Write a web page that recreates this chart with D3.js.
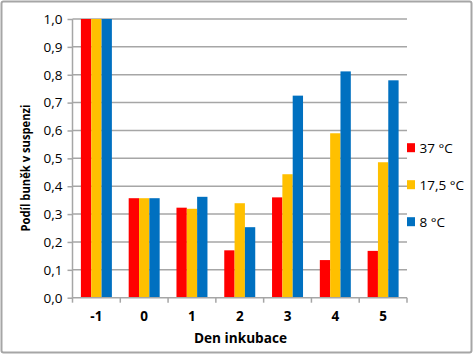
<!doctype html>
<html>
<head>
<script src="https://d3js.org/d3.v7.min.js"></script>
<style>
body { margin: 0; background: #fff; }
text { font-family: "Open Sans", "Liberation Sans", sans-serif; }
</style>
</head>
<body>
<svg width="474" height="356"></svg>
<script>
// data
var days = ["-1", "0", "1", "2", "3", "4", "5"];
var series = ["37 °C", "17,5 °C", "8 °C"];
var colors = ["#ff0000", "#ffc000", "#0070c0"];
var v37 = [1.0, 0.357, 0.323, 0.170, 0.360, 0.135, 0.168];
var v17 = [1.0, 0.357, 0.319, 0.339, 0.443, 0.590, 0.486];
var v8 = [1.0, 0.357, 0.362, 0.253, 0.725, 0.812, 0.780];
var yTicks = [0, 0.1, 0.2, 0.3, 0.4, 0.5, 0.6, 0.7, 0.8, 0.9, 1.0];

var values = [v37, v17, v8];
var rows = days.map(function(d, i) {
    return { day: d, vals: values.map(function(s) { return s[i]; }) };
});

var svg = d3.select("svg");
var pl = 72.5, pr = 407, pt = 19, pb = 297.7;

// outer frame
svg.append("rect")
    .attr("x", 1.5).attr("y", 1.5)
    .attr("width", 470).attr("height", 351)
    .attr("rx", 2)
    .style("fill", "#fff")
    .style("stroke", "#a6a6a6")
    .style("stroke-width", 2);

var x = d3.scaleBand().domain(days).range([pl, pr]).paddingInner(0).paddingOuter(0);
var xs = d3.scaleBand().domain(d3.range(3)).range([8.4, x.bandwidth() - 8.4]);
var y = d3.scaleLinear().domain([0, 1]).range([pb, pt]);

// grid
svg.append("g")
    .selectAll("line")
    .data(yTicks.slice(1))
    .enter().append("line")
    .attr("x1", pl).attr("x2", pr)
    .attr("y1", function(d) { return y(d); })
    .attr("y2", function(d) { return y(d); })
    .style("stroke", "#a6a6a6")
    .style("stroke-width", 1.5);

// bars
var g = svg.append("g");
g.selectAll("g")
    .data(rows)
    .enter().append("g")
    .attr("transform", function(d) { return "translate(" + x(d.day) + ",0)"; })
    .selectAll("rect")
    .data(function(d) { return d.vals; })
    .enter().append("rect")
    .attr("x", function(d, i) { return xs(i); })
    .attr("width", xs.bandwidth())
    .attr("y", function(d) { return y(d); })
    .attr("height", function(d) { return pb - y(d); })
    .style("fill", function(d, i) { return colors[i]; });

// y axis
var yAxis = svg.append("g")
    .attr("transform", "translate(" + pl + ",0)")
    .call(d3.axisLeft(y).tickValues(yTicks).tickSize(5).tickPadding(5)
        .tickFormat(function(d) { return d3.format(".1f")(d).replace(".", ","); }));
yAxis.select(".domain").style("stroke", "#a6a6a6").style("stroke-width", 1.5).attr("d", "M0," + pt + "V" + pb);
yAxis.selectAll(".tick line").style("stroke", "#a6a6a6").style("stroke-width", 1.5);
yAxis.selectAll("text")
    .style("font-size", "13.5px")
    .style("fill", "#000");

// x axis
var xAxis = svg.append("g")
    .attr("transform", "translate(0," + pb + ")")
    .call(d3.axisBottom(x).tickSize(0).tickPadding(14));
xAxis.select(".domain").style("stroke", "#a6a6a6").style("stroke-width", 1.5).attr("d", "M" + pl + ",0H" + pr);
xAxis.selectAll("text")
    .style("font-size", "13.5px")
    .style("font-weight", "bold")
    .style("fill", "#000");
// separators between categories
svg.append("g")
    .selectAll("line")
    .data(days.concat(["end"]))
    .enter().append("line")
    .attr("x1", function(d, i) { return pl + i * x.bandwidth(); })
    .attr("x2", function(d, i) { return pl + i * x.bandwidth(); })
    .attr("y1", pb).attr("y2", pb + 5)
    .style("stroke", "#a6a6a6")
    .style("stroke-width", 1.5);

// axis titles
svg.append("text")
    .attr("x", 240.5)
    .attr("y", 343)
    .attr("text-anchor", "middle")
    .attr("textLength", 93)
    .attr("lengthAdjust", "spacingAndGlyphs")
    .style("font-size", "14px")
    .style("font-weight", "bold")
    .text("Den inkubace");

svg.append("text")
    .attr("transform", "translate(30,168)rotate(-90)")
    .attr("text-anchor", "middle")
    .attr("textLength", 127)
    .attr("lengthAdjust", "spacingAndGlyphs")
    .style("font-size", "13px")
    .style("font-weight", "bold")
    .text("Podíl buněk v suspenzi");

// legend
var leg = svg.append("g")
    .selectAll("g")
    .data(series)
    .enter().append("g")
    .attr("transform", function(d, i) { return "translate(407," + (147.7 + i * 37) + ")"; });
leg.append("rect")
    .attr("x", 0).attr("y", -4.5)
    .attr("width", 8).attr("height", 9)
    .style("fill", function(d, i) { return colors[i]; });
leg.append("text")
    .attr("x", 12.5).attr("y", 5)
    .style("font-size", "13.5px")
    .text(function(d) { return d; });
</script>
</body>
</html>
